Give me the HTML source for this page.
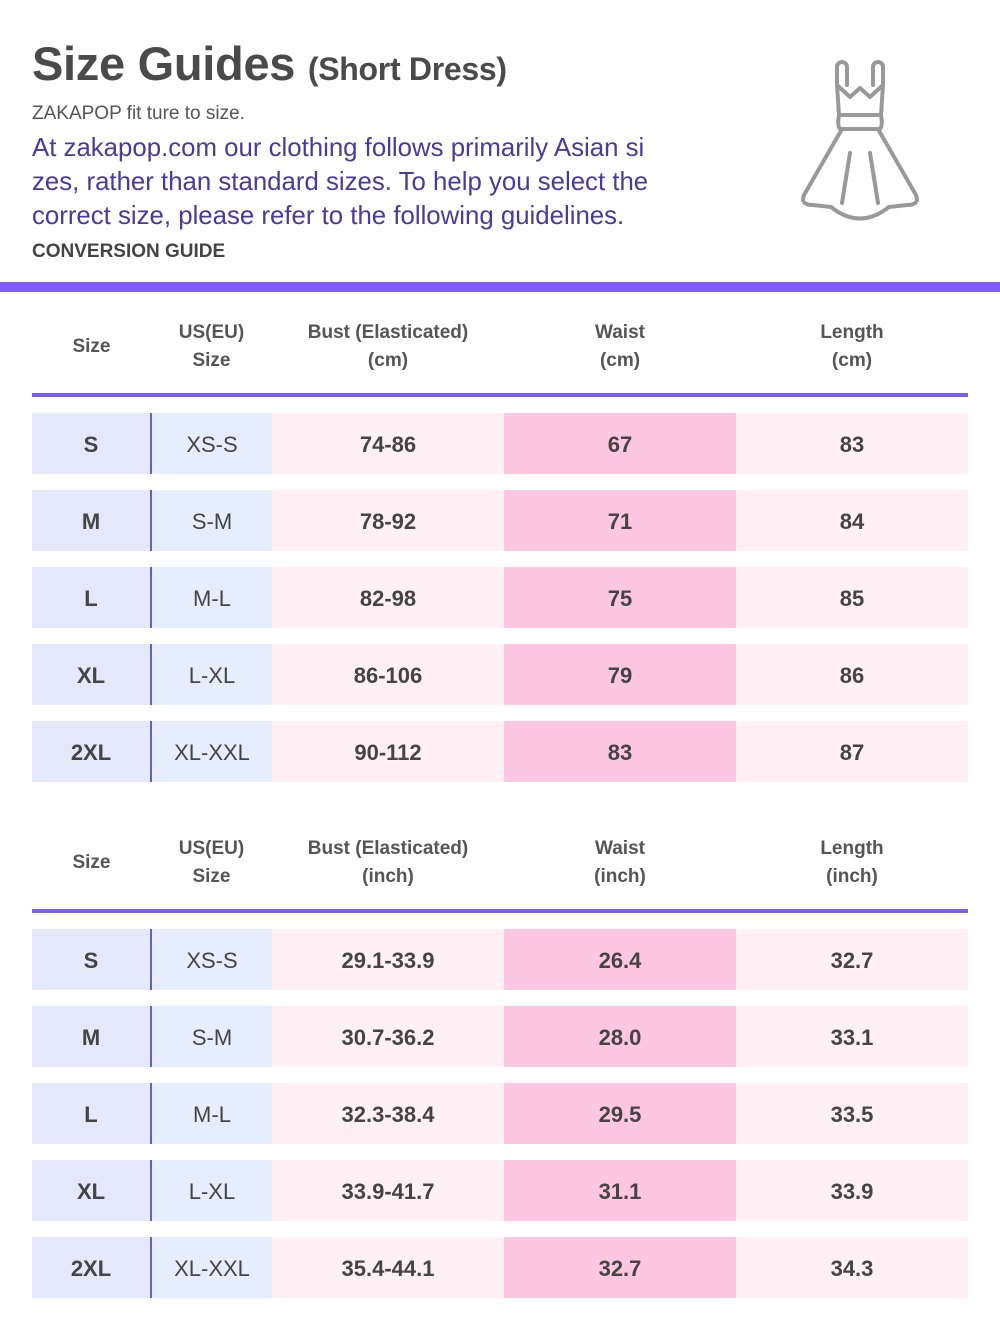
<!DOCTYPE html>
<html><head><meta charset="utf-8"><style>
body{margin:0;width:1000px;height:1332px;background:#fff;position:relative;font-family:"Liberation Sans","DejaVu Sans",sans-serif;color:#444;overflow:hidden}
.a{position:absolute}
.row{position:absolute;left:32px;width:936px;height:61px;display:flex;font-size:22px}
.row div{display:flex;align-items:center;justify-content:center;height:61px;padding-top:2px;box-sizing:border-box;flex:none}
.c1{width:120px;background:#e5e7fb;font-weight:bold;border-right:2px solid #6a5fb8}
.c2{width:120px;background:#e6eefd}
.c3{width:232px;background:#fff0f6;font-weight:bold}
.c4{width:232px;background:#fdc6e1;font-weight:bold}
.c5{width:232px;background:#fff0f6;font-weight:bold}
.hd{position:absolute;left:32px;width:936px;display:flex;font-size:19px;font-weight:bold;color:#555;line-height:28px;text-align:center}
.hd div{display:flex;align-items:center;justify-content:center}
.line{position:absolute;left:32px;width:936px;height:4px;background:#7b5cfb}
</style></head><body>
<div class="a" style="left:32px;top:36px;font-size:47px;font-weight:bold;color:#4a4a4a;letter-spacing:-0.3px">Size Guides <span style="font-size:32px">(Short Dress)</span></div>
<div class="a" style="left:32px;top:103px;font-size:19px;color:#555">ZAKAPOP fit ture to size.</div>
<div class="a" style="left:32px;top:131px;font-size:25.8px;color:#4a3a9a;line-height:34px;width:680px;white-space:nowrap">At zakapop.com our clothing follows primarily Asian si<br>zes, rather than standard sizes. To help you select the<br>correct size, please refer to the following guidelines.</div>
<div class="a" style="left:32px;top:241px;font-size:19px;font-weight:bold;color:#444">CONVERSION GUIDE</div>
<svg class="a" style="left:795px;top:55px" width="130" height="170" viewBox="0 0 130 170" fill="none" stroke="#999" stroke-width="4" stroke-linejoin="round" stroke-linecap="round">
<path d="M42 30 V12 a5 5 0 0 1 10 0 V30 M78 30 V12 a5 5 0 0 1 10 0 V30"/>
<path d="M42 30 L55 42 L65 33 L75 42 L88 30 L86 60 H44 Z" />
<path d="M44 60 Q42 70 45 74 H85 Q88 70 86 60"/>
<path d="M47 74 L9 140 Q5 150 18 150 L36 152 Q65 175 94 152 L112 150 Q125 150 121 140 L83 74"/>
<path d="M55 98 L47 148 M75 98 L83 148"/>
</svg>
<div class="a" style="left:0;top:282px;width:1000px;height:10px;background:#7b5cfb"></div>

<div class="hd" style="top:319px"><div style="width:119px">Size</div><div style="width:121px">US(EU)<br>Size</div><div style="width:232px">Bust (Elasticated)<br>(cm)</div><div style="width:232px">Waist<br>(cm)</div><div style="width:232px">Length<br>(cm)</div></div>
<div class="line" style="top:393px"></div>
<div class="row" style="top:413px"><div class="c1">S</div><div class="c2">XS-S</div><div class="c3">74-86</div><div class="c4">67</div><div class="c5">83</div></div>
<div class="row" style="top:490px"><div class="c1">M</div><div class="c2">S-M</div><div class="c3">78-92</div><div class="c4">71</div><div class="c5">84</div></div>
<div class="row" style="top:567px"><div class="c1">L</div><div class="c2">M-L</div><div class="c3">82-98</div><div class="c4">75</div><div class="c5">85</div></div>
<div class="row" style="top:644px"><div class="c1">XL</div><div class="c2">L-XL</div><div class="c3">86-106</div><div class="c4">79</div><div class="c5">86</div></div>
<div class="row" style="top:721px"><div class="c1">2XL</div><div class="c2">XL-XXL</div><div class="c3">90-112</div><div class="c4">83</div><div class="c5">87</div></div>

<div class="hd" style="top:835px"><div style="width:119px">Size</div><div style="width:121px">US(EU)<br>Size</div><div style="width:232px">Bust (Elasticated)<br>(inch)</div><div style="width:232px">Waist<br>(inch)</div><div style="width:232px">Length<br>(inch)</div></div>
<div class="line" style="top:909px"></div>
<div class="row" style="top:929px"><div class="c1">S</div><div class="c2">XS-S</div><div class="c3">29.1-33.9</div><div class="c4">26.4</div><div class="c5">32.7</div></div>
<div class="row" style="top:1006px"><div class="c1">M</div><div class="c2">S-M</div><div class="c3">30.7-36.2</div><div class="c4">28.0</div><div class="c5">33.1</div></div>
<div class="row" style="top:1083px"><div class="c1">L</div><div class="c2">M-L</div><div class="c3">32.3-38.4</div><div class="c4">29.5</div><div class="c5">33.5</div></div>
<div class="row" style="top:1160px"><div class="c1">XL</div><div class="c2">L-XL</div><div class="c3">33.9-41.7</div><div class="c4">31.1</div><div class="c5">33.9</div></div>
<div class="row" style="top:1237px"><div class="c1">2XL</div><div class="c2">XL-XXL</div><div class="c3">35.4-44.1</div><div class="c4">32.7</div><div class="c5">34.3</div></div>
</body></html>
